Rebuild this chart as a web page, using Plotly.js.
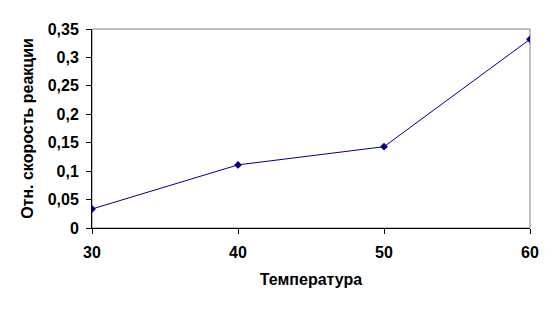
<!DOCTYPE html>
<html>
<head>
<meta charset="utf-8">
<script src="https://cdn.plot.ly/plotly-3.0.1.min.js"></script>
<style>html,body{margin:0;padding:0;background:#fff;}#chart{width:557px;height:312px;}</style>
</head>
<body>
<div id="chart"></div>
<script>
var temperature = [30, 40, 50, 60];
var relativeRate = [0.0334, 0.111, 0.143, 0.332];
var yTickValues = [0, 0.05, 0.1, 0.15, 0.2, 0.25, 0.3, 0.35];
var yTickLabels = ["0", "0,05", "0,1", "0,15", "0,2", "0,25", "0,3", "0,35"];
var xTickValues = [30, 40, 50, 60];
var xTickLabels = ["30", "40", "50", "60"];
var xTitle = "Температура";
var yTitle = "Отн. скорость реакции";

var fam = "Liberation Sans, Arial, sans-serif";
var boldFont = {family: fam, size: 16, color: "#000", weight: "bold"};

var trace = {
  x: temperature, y: relativeRate, type: "scatter", mode: "lines+markers",
  line: {color: "#000080", width: 1},
  marker: {symbol: "diamond", size: 6, color: "#000080"},
  hoverinfo: "none"
};

var layout = {
  width: 557, height: 312,
  margin: {l: 92, r: 27, t: 29, b: 84},
  paper_bgcolor: "#fff", plot_bgcolor: "#fff",
  showlegend: false,
  font: {family: fam, size: 16, color: "#000"},
  shapes: [{type: "rect", xref: "paper", yref: "paper", x0: 0, x1: 1, y0: 0, y1: 1,
            line: {color: "#808080", width: 1}, layer: "below"}],
  xaxis: {
    range: [30, 60], tickvals: xTickValues, ticktext: xTickLabels,
    showgrid: false, zeroline: false, showline: true, linecolor: "#000", linewidth: 1,
    ticks: "outside", ticklen: 5, tickcolor: "#000", ticklabelstandoff: 5,
    tickfont: boldFont,
    title: {text: xTitle, standoff: 13, font: boldFont}
  },
  yaxis: {
    range: [0, 0.35], tickvals: yTickValues, ticktext: yTickLabels,
    showgrid: false, zeroline: false, showline: true, linecolor: "#000", linewidth: 1,
    ticks: "outside", ticklen: 5, tickcolor: "#000", ticklabelstandoff: 4,
    tickfont: boldFont,
    title: {text: yTitle, standoff: 10, font: boldFont}
  }
};

Plotly.newPlot("chart", [trace], layout, {displayModeBar: false, staticPlot: true});
</script>
</body>
</html>
